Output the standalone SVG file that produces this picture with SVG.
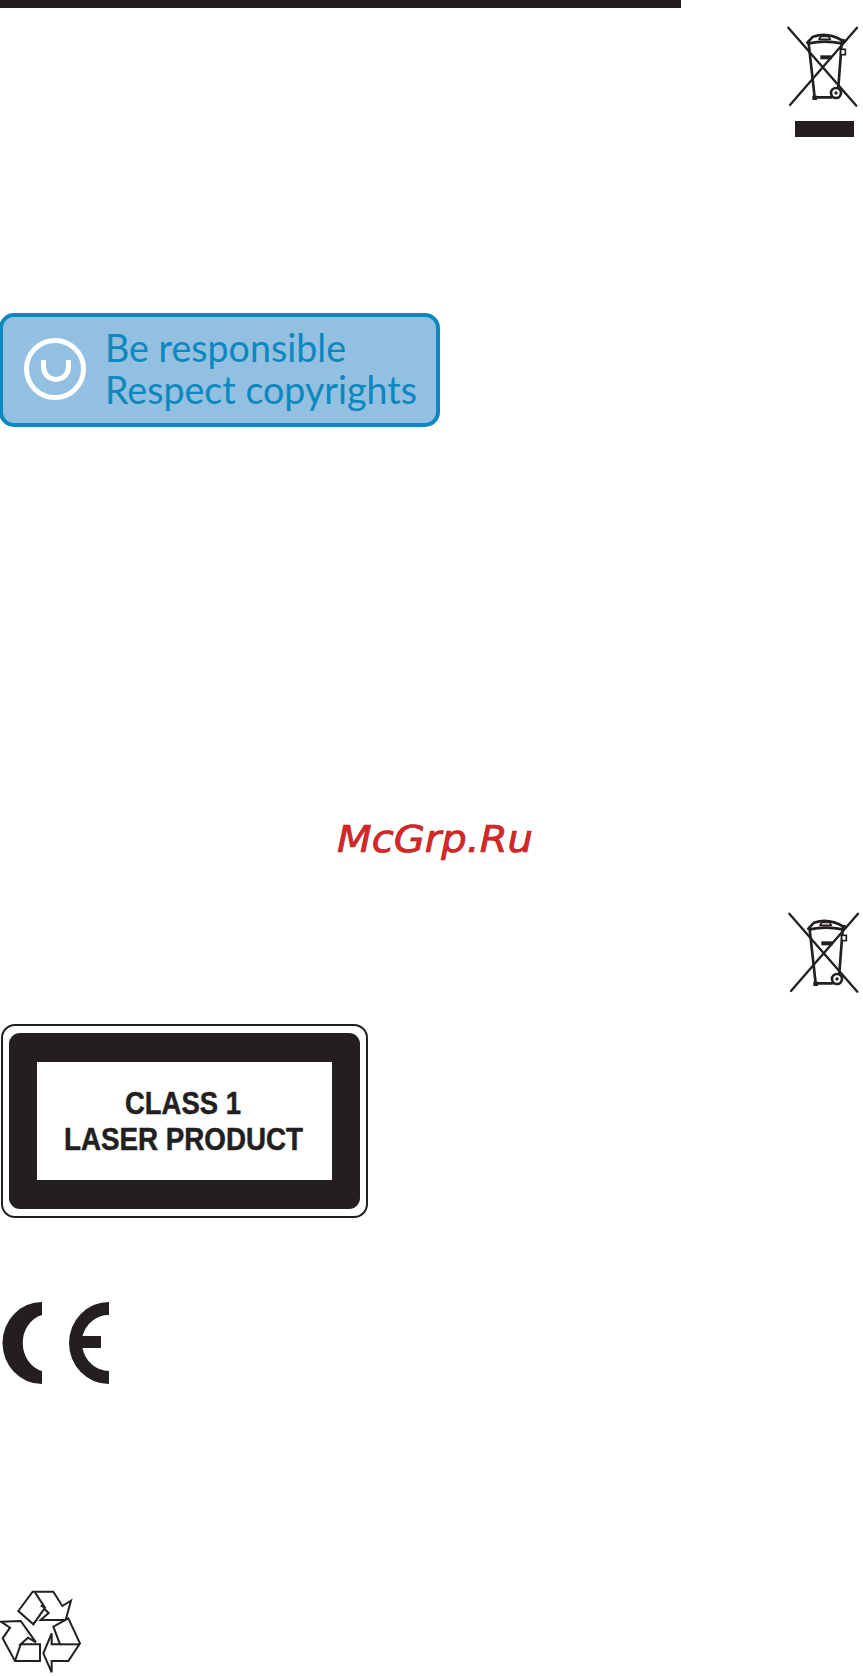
<svg xmlns="http://www.w3.org/2000/svg" width="863" height="1676" viewBox="0 0 863 1676">
<style>
.k{fill:#231f20}
.bl{fill:none;stroke:#231f20;stroke-linecap:round;stroke-linejoin:round}
.badge{font-family:"Lato","Liberation Sans",sans-serif;font-size:39px;fill:#0a88bf}
.laser{font-family:"Liberation Sans",Arial,sans-serif;font-weight:700;font-size:31px;fill:#231f20;stroke:#231f20;stroke-width:0.5}
.wm{font-family:"DejaVu Sans",sans-serif;font-style:oblique;font-size:37px;fill:#dc2626;stroke:#b02020;stroke-width:0.7}
.rc{fill:#fff;stroke:#231f20;stroke-width:6;stroke-linejoin:miter}
</style>
<defs>
<g id="bin">
<g transform="translate(763,10) scale(0.3333)">
<path class="bl" stroke-width="7" d="M76 53L280 287M282 53L81 285"/>
<path class="bl" stroke-width="8" d="M137 100L155 262H205M236 100L226 232"/>
<path class="bl" stroke-width="8" d="M133 98L150 80Q195 65 240 93M137 100Q185 90 236 100"/>
<path class="bl" stroke-width="5" d="M168 88L174 79H197L202 88Z"/>
<rect class="k" x="172" y="136" width="34" height="12"/>
<rect class="k" x="148" y="257" width="14" height="13"/>
<circle cx="219" cy="249" r="15" fill="#fff" stroke="#231f20" stroke-width="8"/>
<circle class="k" cx="219" cy="249" r="5"/>
<circle class="k" cx="240" cy="93" r="7"/>
<rect x="233" y="118" width="14" height="16" fill="#fff" stroke="#231f20" stroke-width="5"/>
</g>
</g>
</defs>
<rect width="863" height="1676" fill="#fff"/>
<g id="top-bar"><rect class="k" x="0" y="0" width="681" height="8"/></g>
<g id="bin-1"><use href="#bin"/><rect class="k" x="795" y="121" width="59" height="16"/></g>
<g id="copyright-badge">
<rect x="1" y="315" width="437" height="110" rx="13" fill="#93bfe0" stroke="#0a88bf" stroke-width="4"/>
<circle cx="55" cy="369" r="28.500" fill="none" stroke="#fff" stroke-width="5"/>
<path d="M43.500 360V367A12 12 0 0 0 68.500 367V360" fill="none" stroke="#fff" stroke-width="5"/>
<text class="badge" x="105" y="362" textLength="241" lengthAdjust="spacingAndGlyphs">Be responsible</text>
<text class="badge" x="105" y="404" textLength="312" lengthAdjust="spacingAndGlyphs">Respect copyrights</text>
</g>
<g id="watermark"><text class="wm" x="337" y="852" textLength="196" lengthAdjust="spacingAndGlyphs">McGrp.Ru</text></g>
<g id="bin-2"><use href="#bin" x="1" y="886"/></g>
<g id="laser-label">
<rect x="2" y="1025" width="365" height="192" rx="13" fill="#fff" stroke="#231f20" stroke-width="2"/>
<rect class="k" x="9" y="1033" width="351" height="176" rx="11"/>
<rect x="37" y="1062" width="295" height="118" fill="#fff"/>
<text class="laser" x="125" y="1114" textLength="116" lengthAdjust="spacingAndGlyphs">CLASS 1</text>
<text class="laser" x="64" y="1150" textLength="239" lengthAdjust="spacingAndGlyphs">LASER PRODUCT</text>
</g>
<g id="ce-mark">
<path class="k" d="M42 1302A39.500 41 0 0 0 42 1384V1371A26 29 0 0 1 42 1315Z"/>
<path class="k" d="M109 1302A40 41 0 0 0 109 1384V1371A27 29 0 0 1 82.500 1348H101V1336H82.500A27 29 0 0 1 109 1315Z"/>
</g>
<g id="recycle" transform="translate(0,1585) scale(0.3333)">
<path class="rc" d="M98 20H160L187 63L213 47L197 105H122L146 84L123 62L100 118L55 78Z"/>
<path class="rc" d="M105 22L135 68L100 118M122 62L135 68"/>
<path class="rc" d="M3 110L62 108L108 172L84 158L62 178H120V228H45L8 160L30 128Z"/>
<path class="rc" d="M62 178L45 228"/>
<path class="rc" d="M155 262L130 205L155 145V178H180L160 125L205 100L240 175L205 228H155Z"/>
<path class="rc" d="M180 178H240"/>
</g>
</svg>
